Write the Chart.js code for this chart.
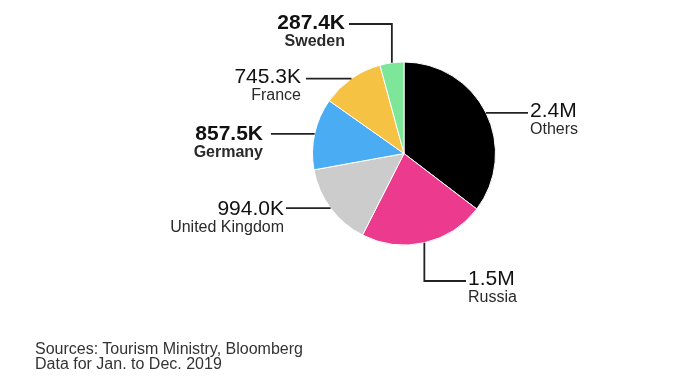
<!DOCTYPE html>
<html>
<head>
<meta charset="utf-8">
<script src="https://cdn.jsdelivr.net/npm/chart.js@4/dist/chart.umd.min.js"></script>
<style>
  body { margin: 0; background: #fff; }
  #wrap { position: relative; width: 680px; height: 378px; }
  #source {
    position: absolute; left: 35px; top: 341px;
    font: 16px "Liberation Sans", Arial, sans-serif; line-height: 15px; color: #333;
  }
</style>
</head>
<body>
<div id="wrap">
  <canvas id="pieChart"></canvas>
  <div id="source">Sources: Tourism Ministry, Bloomberg<br>Data for Jan. to Dec. 2019</div>
</div>
<script>
"use strict";

// DATA -----------------------
const categories = ["Others", "Russia", "United Kingdom", "Germany", "France", "Sweden"];
const visitors = [2400, 1500, 994.0, 857.5, 745.3, 287.4]; // thousands
const valueLabels = ["2.4M", "1.5M", "994.0K", "857.5K", "745.3K", "287.4K"];
const sliceColors = ["#000000", "#ec3a8e", "#cccccc", "#4aadf3", "#f5c244", "#7de699"];

// label placement, one per slice (same order as categories)
// path: points after the slice anchor, null = keep anchor coordinate
const labelLayout = [
  { path: [[528, null]], x: 530, vy: 111, sy: 130, align: "left", bold: false },
  { path: [[null, 281], [466, 281]], x: 468, vy: 279, sy: 298, align: "left", bold: false },
  { path: [[286, null]], x: 284, vy: 209, sy: 228, align: "right", bold: false },
  { path: [[271, null]], x: 263, vy: 134, sy: 153, align: "right", bold: true },
  { path: [[306, null]], x: 301, vy: 77, sy: 96, align: "right", bold: false },
  { path: [[null, 24], [349, 24]], x: 345, vy: 23, sy: 42, align: "right", bold: true }
];

// PLUGIN -----------------------
const leaderLabels = {
  id: "leaderLabels",
  afterDraw(chart) {
    const ctx = chart.ctx;
    const meta = chart.getDatasetMeta(0);
    meta.data.forEach(function (arc, i) {
      const p = arc.getProps(["x", "y", "startAngle", "endAngle", "outerRadius"], true);
      const mid = (p.startAngle + p.endAngle) / 2;
      const ax = p.x + Math.cos(mid) * p.outerRadius;
      const ay = p.y + Math.sin(mid) * p.outerRadius;
      const lay = labelLayout[i];

      ctx.save();
      ctx.strokeStyle = "#222";
      ctx.lineWidth = 1.8;
      ctx.beginPath();
      ctx.moveTo(ax, ay);
      lay.path.forEach(function (pt) {
        ctx.lineTo(pt[0] === null ? ax : pt[0], pt[1] === null ? ay : pt[1]);
      });
      ctx.stroke();

      ctx.textAlign = lay.align;
      ctx.textBaseline = "middle";
      ctx.fillStyle = "#111";
      ctx.font = (lay.bold ? "bold " : "") + "21px 'Liberation Sans', Arial, sans-serif";
      ctx.fillText(valueLabels[i], lay.x, lay.vy);
      ctx.fillStyle = "#2a2a2a";
      ctx.font = (lay.bold ? "bold " : "") + "16px 'Liberation Sans', Arial, sans-serif";
      ctx.fillText(categories[i], lay.x, lay.sy);
      ctx.restore();
    });
  }
};

// CHART -----------------------
new Chart(document.getElementById("pieChart"), {
  type: "pie",
  data: {
    labels: categories,
    datasets: [{
      data: visitors,
      backgroundColor: sliceColors,
      borderColor: "#ffffff",
      borderWidth: 1
    }]
  },
  options: {
    responsive: true,
    maintainAspectRatio: false,
    animation: false,
    layout: { padding: { top: 61, bottom: 132, left: 312, right: 184 } },
    plugins: {
      legend: { display: false },
      tooltip: { enabled: false }
    }
  },
  plugins: [leaderLabels]
});
</script>
</body>
</html>
